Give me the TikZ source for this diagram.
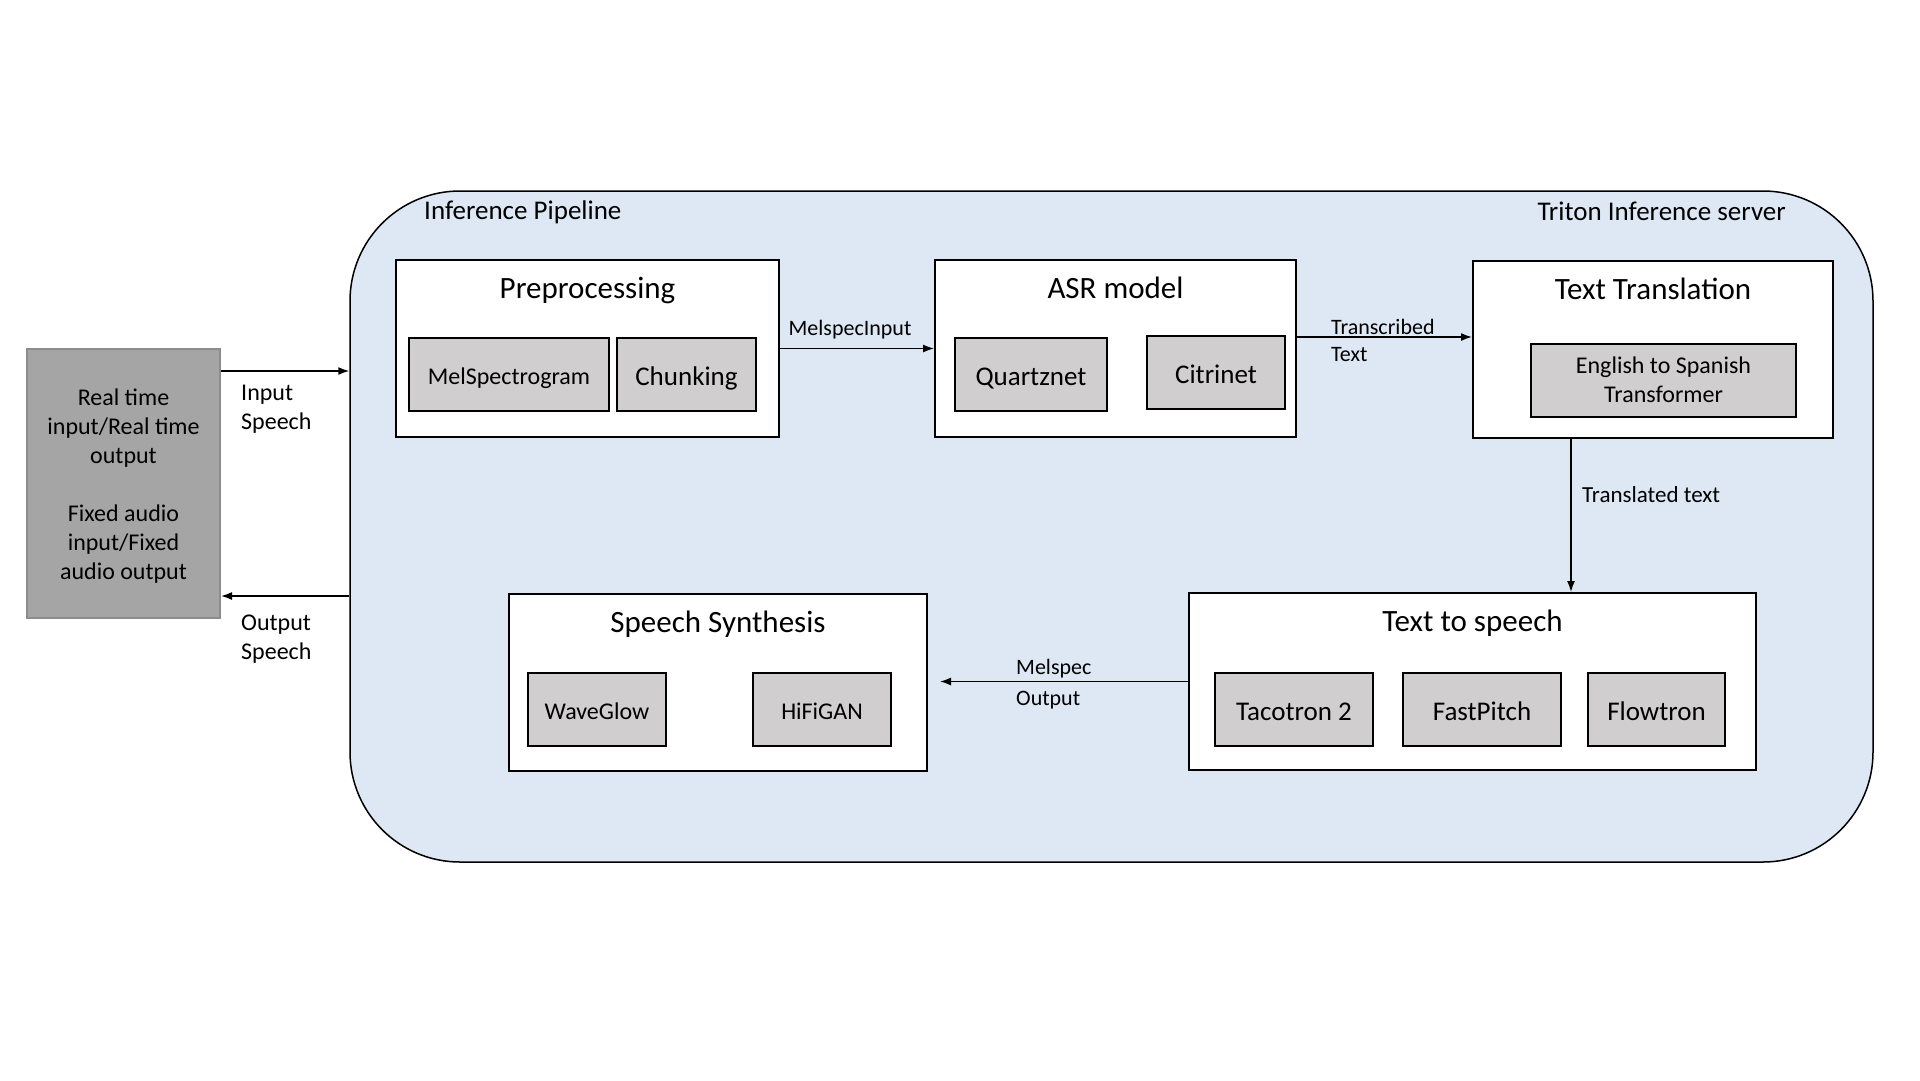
\documentclass[tikz,border=0pt]{standalone}
\usepackage{fontspec}
\setmainfont{Carlito}
\usepackage{tikz}
\usetikzlibrary{arrows.meta,positioning}
\definecolor{serverblue}{HTML}{DDE8F4}
\definecolor{iogray}{HTML}{A5A5A5}
\definecolor{ioedge}{HTML}{8C8C8C}
\definecolor{modelgray}{HTML}{D0CECE}
\tikzstyle{stage}=[draw,fill=white,line width=2pt,inner sep=0pt,minimum height=177pt]
\tikzstyle{modelbox}=[draw,fill=modelgray,line width=2pt,inner sep=0pt,minimum height=73pt,align=center]
\tikzstyle{model}=[modelbox,text height=22pt,text depth=0pt,font=\fontsize{27}{32}\selectfont]
\tikzstyle{smallmodel}=[modelbox,text height=20pt,text depth=0pt,font=\fontsize{24}{29}\selectfont]
\tikzstyle{title}=[inner sep=0pt,font=\fontsize{31}{37}\selectfont]
\tikzstyle{lbl}=[inner sep=0pt,align=left,font=\fontsize{22}{27}\selectfont]
\tikzstyle{flow}=[line width=1.5pt,-{Latex[length=11pt,width=8pt]}]

\begin{document}
\begin{tikzpicture}[x=1pt,y=-1pt]
\useasboundingbox (0,0) rectangle (1920,1080);

% server and outside audio
\node [draw,fill=serverblue,line width=1.5pt,rounded corners=110pt,minimum width=1523pt,minimum height=671pt] (server) at (1111.5,526.5) {};
\node [draw=ioedge,fill=iogray,line width=2pt,minimum width=193pt,minimum height=269pt] (io) at (123.5,483.5) {};
\node [inner sep=0pt,align=center,font=\fontsize{24}{29}\selectfont,yshift=-3pt] (iotext) at (io.center)
  {Real time\\input/Real time\\output\\[29pt]Fixed audio\\input/Fixed\\audio output};
\node [anchor=west,inner sep=0pt,font=\fontsize{27}{32}\selectfont] (pipe) at (424,212) {Inference Pipeline};
\node [anchor=east,inner sep=0pt,font=\fontsize{27}{32}\selectfont] (triton) at (1786,211) {Triton Inference server};

% stages
\node [stage,minimum width=383pt] (pre) at (587.5,348.5) {};
\node [title,below=18pt of pre.north] (preT) {Preprocessing};
\node [smallmodel,minimum width=200pt] (mel) at (509,374.5) {MelSpectrogram};
\node [model,minimum width=139pt] (chunk) at (686.5,374.5) {Chunking};

\node [stage,minimum width=361pt] (asr) at (1115.5,348.5) {};
\node [title,below=18pt of asr.north] (asrT) {ASR model};
\node [model,minimum width=152pt] (quartz) at (1031,374.5) {Quartznet};
\node [model,minimum width=138pt] (citri) at (1216,372) {Citrinet};

\node [stage,minimum width=360pt] (trans) at (1653,349.5) {};
\node [title,below=18pt of trans.north] (transT) {Text Translation};
\node [modelbox,minimum width=265pt,font=\fontsize{24}{29}\selectfont] (en2es) at (1663.5,380) {English to Spanish\\Transformer};

\node [stage,minimum width=567pt] (tts) at (1472.5,681.5) {};
\node [title,below=18pt of tts.north] (ttsT) {Text to speech};
\node [model,minimum width=158pt] (taco) at (1294,709) {Tacotron 2};
\node [model,minimum width=158pt] (fastp) at (1482,709) {FastPitch};
\node [model,minimum width=137pt] (flowt) at (1656.5,709) {Flowtron};

\node [stage,minimum width=418pt] (syn) at (718,682.5) {};
\node [title,below=18pt of syn.north] (synT) {Speech Synthesis};
\node [smallmodel,minimum width=138pt] (wave) at (597,709) {WaveGlow};
\node [smallmodel,minimum width=138pt] (hifi) at (822,709) {HiFiGAN};

% connectors
\draw [flow] ([yshift=112.5pt]io.east) -- ([yshift=112.5pt]io.east -| server.west);
\draw [flow] ([yshift=-112.5pt]io.east -| server.west) -- ([yshift=-112.5pt]io.east);
\draw [flow] (pre.east) -- (asr.west);
\draw [flow] ([yshift=11.5pt]asr.east) -- ([yshift=11.5pt]asr.east -| trans.west);
\draw [flow] ([xshift=-82pt]trans.south) -- ([xshift=-82pt]trans.south |- tts.north);
\draw [flow] (tts.west) -- ([xshift=12pt]syn.east |- tts.west);

% connector labels
\node [lbl,font=\fontsize{24}{29}\selectfont,anchor=west] (inL) at (241,409.5) {Input\\Speech};
\node [lbl,font=\fontsize{24}{29}\selectfont,anchor=west] (outL) at (241,639.5) {Output\\Speech};
\node [lbl] (melIn) at (850,329.5) {MelspecInput};
\node [lbl,anchor=west] (transcr) at (1331,340.5) {Transcribed\\Text};
\node [lbl,font=\fontsize{23}{28}\selectfont,anchor=west] (translated) at (1582,495) {Translated text};
\node [lbl,font=\fontsize{22}{31}\selectfont,anchor=west] (melOut) at (1016,684) {Melspec\\Output};
\end{tikzpicture}
\end{document}
